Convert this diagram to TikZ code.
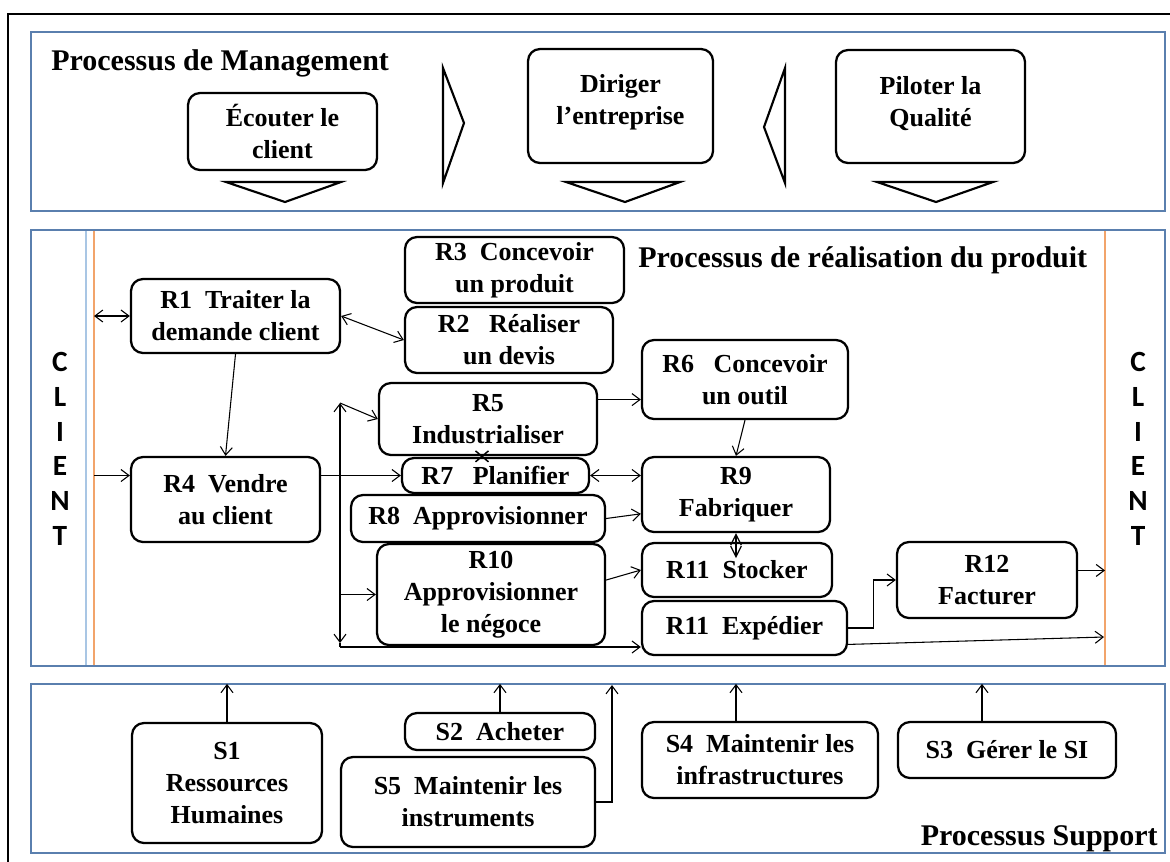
\documentclass[tikz,border=0pt]{standalone}
\usepackage{fontspec}
\setmainfont{Liberation Serif}
\newfontfamily\clientfont{Carlito}
\usetikzlibrary{arrows.meta,calc}
\definecolor{bandblue}{HTML}{5A7FAE}
\definecolor{lightblue}{HTML}{A9C6E4}
\definecolor{orangeline}{HTML}{F2A46B}
\newcommand{\bx}[6]{\node[box,minimum width={#4*0.75pt},minimum height={#5*0.75pt}] (#1) at (#2,#3) {#6};}
\begin{document}
\begin{tikzpicture}[x=0.75pt,y=-0.75pt,
  box/.style={draw=black,line width=1.7pt,rounded corners=9pt,fill=white,align=center,
    font=\fontsize{19.5}{24}\selectfont\bfseries,inner sep=0pt},
  heading/.style={font=\fontsize{22.5}{27}\selectfont\bfseries,inner sep=0pt},
  clientlbl/.style={font=\fontsize{22}{26}\selectfont\clientfont\bfseries,align=center,inner sep=0pt},
  conn/.style={line width=0.8pt,-{Straight Barb[length=6pt,width=9pt]}},
  dconn/.style={line width=0.8pt,{Straight Barb[length=6pt,width=9pt]}-{Straight Barb[length=6pt,width=9pt]}},
  crossmark/.style={line width=1.1pt},
  diam/.style={line width=0.9pt,{Straight Barb[length=8pt,width=8pt]}-{Straight Barb[length=8pt,width=8pt]}},
  band/.style={draw=bandblue,line width=1.8pt},
  tri/.style={draw=black,line width=1.6pt,line join=miter}]
\useasboundingbox (0,0) rectangle (1170,861);
\clip (0,0) rectangle (1170,861);
\fill[white] (0,0) rectangle (1170,861);
% outer frame
\draw[line width=2.2pt] (8,14) rectangle (1190,900);
% bands
\draw[band] (31,32) rectangle (1165,211);
\draw[band] (31,230) rectangle (1165,666);
\draw[band] (31,684) rectangle (1165,853);
\draw[lightblue,line width=1pt] (86,231) -- (86,665);
\draw[orangeline,line width=1.8pt] (94,231) -- (94,665);
\draw[orangeline,line width=1.8pt] (1105,231) -- (1105,665);
% headings
\node[heading,anchor=base west] (hman) at (51,70) {Processus de Management};
\node[heading,anchor=base west] (hreal) at (638,267) {Processus de réalisation du produit};
\node[heading,anchor=base east] (hsup) at (1158,845) {Processus Support};
\node[clientlbl] (cleft) at (60,449) {C\\L\\I\\E\\N\\T};
\node[clientlbl] (cright) at (1138,449) {C\\L\\I\\E\\N\\T};
% management
\bx{ecout}{282.5}{131.5}{189}{77}{Écouter le\\client}
\bx{dirig}{620.5}{106}{185}{114}{Diriger\\l’entreprise\\[-14pt]}
\bx{pilot}{930.5}{106.5}{189}{113}{Piloter la\\Qualité\\[-16pt]}
\draw[tri] (226,182) -- (341,182) -- (285,202) -- cycle;
\draw[tri] (566,182) -- (680,182) -- (625,202) -- cycle;
\draw[tri] (877,182) -- (993,182) -- (936,202) -- cycle;
\draw[tri] (443,68) -- (464,123) -- (443,183) -- cycle;
\draw[tri] (785,68) -- (764,127) -- (785,183) -- cycle;
% realisation
\bx{R3}{514.5}{270}{219}{66}{R3~~Concevoir\\un produit}
\bx{R2}{509}{340}{208}{66}{R2~~~Réaliser\\un devis}
\bx{R1}{235.5}{316}{209}{74}{R1~~Traiter la\\demande client}
\bx{R4}{225.5}{499.5}{189}{85}{R4~~Vendre\\au client}
\bx{R5}{488}{419}{218}{72}{R5\\Industrialiser}
\bx{R6}{745}{379.5}{206}{79}{R6~~~Concevoir\\un outil}
\bx{R7}{495.5}{475.5}{187}{35}{R7~~~Planifier}
\bx{R8}{478}{518.5}{254}{47}{R8~~Approvisionner}
\bx{R9}{736}{494.5}{188}{75}{R9\\Fabriquer}
\bx{R11s}{737}{570}{190}{54}{R11~~Stocker}
\bx{R11e}{744.5}{628}{205}{54}{R11~~Expédier}
\bx{R10}{491}{594.5}{228}{101}{R10\\Approvisionner\\le négoce}
\bx{R12}{987}{580}{180}{76}{R12\\Facturer}
% support
\bx{S1}{227}{783}{190}{120}{S1\\Ressources\\Humaines}
\bx{S2}{500}{731.5}{190}{37}{S2~~Acheter}
\bx{S5}{468}{802}{254}{90}{S5~~Maintenir les\\instruments}
\bx{S4}{760}{760}{236}{76}{S4~~Maintenir les\\infrastructures}
\bx{S3}{1007}{750}{218}{56}{S3~~Gérer le SI}
% coordinates
\coordinate (cl) at (94,449);
\coordinate (cr) at (1105,449);
\coordinate (vt) at (340,403);
\coordinate (vb) at (340,643);
\coordinate (vbb) at (340,647);
\coordinate (crx) at (1104,637);
\coordinate (s5up) at (612,685);
% connectors
\draw[dconn] (cl |- R1.west) -- (R1.west);
\draw[dconn] (R1.east) -- (R2.west);
\draw[conn] (R1.south) -- (R4.north);
\draw[conn] (cl |- R7.west) -- (R4.west |- R7.west);
\draw[conn] (R4.east |- R7.west) -- (R7.west);
\draw[dconn] (vt) -- (vb);
\draw[conn] (vt) -- (R5.west);
\draw[conn] (vt |- R10.west) -- (R10.west);
\draw[line width=0.8pt] (vb) -- (vbb);
\draw[conn] (vbb) -- (vbb -| R11e.west);
\draw[conn] (R5.10) -- (R5.10 -| R6.west);
\draw[conn] (R6.south) -- (R9.north);
\draw[dconn] (R7.east) -- (R7.east -| R9.west);
\draw[conn] (R8.east) -- ($(R9.north west)!0.75!(R9.south west)$);
\draw[diam] (R9.south) -- ++(0,25);
\draw[conn] ($(R10.north east)!0.36!(R10.south east)$) -- (R11s.west);
\draw[conn] (R11e.east) -- ++(25,0) |- (R12.west);
\draw[conn] (R12.6) -- (R12.6 -| cr);
\draw[conn] (R11e.-9) -- (crx);
\draw[crossmark] ($(R7.north)+(-20,-6)$) -- ++(13,11) ($(R7.north)+(-20,5)$) -- ++(13,-11);
\draw[conn] (S1.north) -- ++(0,-38);
\draw[conn] (S2.north) -- ++(0,-28);
\draw[conn] (S5.east) -| (s5up);
\draw[conn] ($(S4.north)+(-24,0)$) -- ++(0,-37);
\draw[conn] ($(S3.north)+(-25,0)$) -- ++(0,-37);
\end{tikzpicture}
\end{document}
